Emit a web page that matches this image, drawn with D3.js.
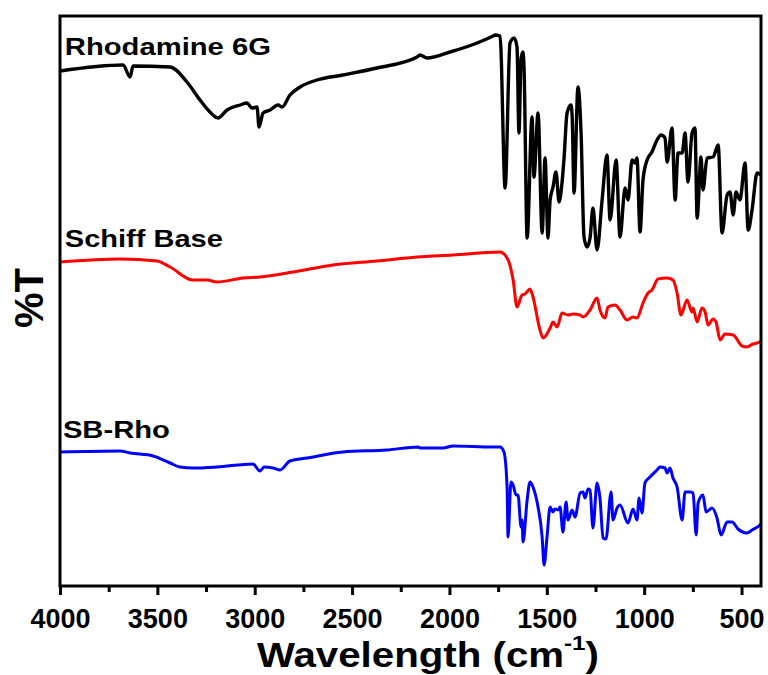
<!DOCTYPE html>
<html>
<head>
<meta charset="utf-8">
<script src="https://cdn.jsdelivr.net/npm/d3@7/dist/d3.min.js"></script>
<style>
  body { margin: 0; background: #fff; }
  text { font-family: "Liberation Sans", Arial, sans-serif; font-weight: bold; }
</style>
</head>
<body>
<svg id="chart" width="768" height="675"></svg>
<script>
// wavenumber (cm-1), %T (arbitrary offset units)
const rhodamine = [[4000,103],[3676,104.2],[3640,101.8],[3625,104],[3435,103.8],[3348,100.8],[3281,97.2],[3230,94.8],[3189,93.6],[3142,95.2],[3075,96.2],[3040,96.6],[3014,95.6],[2988,95.8],[2978,91.8],[2957,94.6],[2921,95.2],[2880,96.2],[2860,95.8],[2819,98.2],[2767,99.8],[2680,101.2],[2547,102.2],[2372,103.6],[2166,105.8],[2151,106.2],[2115,105.6],[1997,106.8],[1858,108.6],[1776,110],[1766,110.2],[1740,110],[1714,79.6],[1689,108.6],[1668,109.6],[1653,107.8],[1643,90.6],[1632,105.6],[1622,106.8],[1617,103.8],[1601,69.6],[1576,93.8],[1566,81.8],[1545,94.6],[1524,70.6],[1509,85.6],[1494,69.6],[1483,77.2],[1468,79.8],[1453,82.8],[1437,76.8],[1422,80.6],[1411,85.8],[1396,94.6],[1376,96.2],[1370,94.2],[1360,78.6],[1340,99.8],[1324,90.6],[1309,69.8],[1293,67.8],[1278,69.6],[1263,75.6],[1242,67.2],[1216,77.2],[1191,86.2],[1175,73.2],[1144,85.2],[1124,69.8],[1098,79.6],[1083,77.2],[1062,85.2],[1047,84.6],[1037,85.6],[1021,70.8],[1006,81.2],[985,85.2],[960,86.8],[934,89.2],[913,90.2],[893,89.6],[882,84.8],[857,91.6],[841,77.2],[826,86.6],[805,86.6],[790,90.6],[775,80.8],[754,90.6],[739,91.6],[728,73.6],[708,85.8],[698,79.2],[677,85.6],[646,85.8],[620,88.2],[600,70.6],[574,78.2],[559,78.8],[543,74.2],[528,78.8],[508,77.2],[482,84.6],[466,71.2],[446,75.2],[420,82.6],[400,82.2]];

const schiffBase = [[4000,64.8],[3692,65.4],[3502,65],[3435,63.8],[3317,61.2],[3245,61.2],[3194,60.8],[3060,61.6],[2973,61.8],[2803,62.8],[2598,64.2],[2372,65],[2166,65.8],[1982,66.2],[1740,66.8],[1699,65.2],[1673,61.2],[1653,55.8],[1627,58.2],[1612,58.4],[1586,59.4],[1571,57.8],[1535,51.2],[1519,49.6],[1483,51.6],[1468,52.8],[1447,51.8],[1422,54.6],[1391,54.2],[1365,54.4],[1329,54.2],[1314,53.8],[1278,55.2],[1242,57.6],[1227,55.2],[1201,53.6],[1186,55.8],[1150,56.2],[1124,55.2],[1088,53.2],[1057,53.8],[1037,53.6],[1006,56.6],[980,58.6],[960,59.2],[929,61.4],[882,61.6],[852,61.2],[831,58.6],[811,54.2],[780,57.2],[754,54.8],[749,55.6],[728,52.8],[703,55.6],[687,54.8],[672,52.2],[646,53.4],[631,52.8],[610,49.2],[585,50.4],[543,50.2],[497,48],[472,47.8],[441,48.4],[405,48.8],[400,49]];

const sbRho = [[4000,26.8],[3692,27],[3640,26.6],[3522,26],[3435,24.6],[3384,23.8],[3317,23.6],[3194,23.8],[3009,24.4],[2973,23],[2952,23.8],[2906,23.6],[2870,23.2],[2819,25],[2731,25.6],[2547,26.8],[2321,27.2],[2161,27.8],[2151,27.6],[2033,27.6],[1982,28],[1776,27.8],[1740,27.8],[1720,26.8],[1704,19.8],[1699,9.8],[1684,20.8],[1673,20.2],[1658,18.2],[1648,18.2],[1632,11.8],[1627,13.2],[1622,8.8],[1601,17.2],[1586,20.8],[1571,19.8],[1545,15.8],[1524,9.8],[1514,4.2],[1499,9.8],[1483,15.8],[1468,14.8],[1458,15.4],[1442,15.2],[1432,15.8],[1417,10.8],[1401,16.8],[1391,13.2],[1370,15.2],[1355,13.8],[1329,18.6],[1314,18.8],[1304,17.6],[1288,19.4],[1278,19.2],[1263,11.6],[1242,20.6],[1227,17.6],[1211,9.6],[1196,9.4],[1170,18.8],[1160,13.2],[1139,15.6],[1124,16.2],[1083,12.6],[1057,15.4],[1037,13.2],[1026,17.6],[1011,14.6],[996,20.6],[970,21.8],[934,23.2],[918,23.8],[893,23.6],[882,22.6],[867,23.6],[852,21.6],[831,19.8],[805,13.2],[790,18.8],[764,18.8],[749,18.6],[733,10.2],[723,16.6],[698,18.2],[682,14.8],[651,15.6],[626,13.6],[605,10.2],[574,12.8],[549,12.8],[518,11.4],[472,10.6],[446,11.2],[405,12.2],[400,12.4]];

const seriesNames = ["Rhodamine 6G", "Schiff Base", "SB-Rho"];
const seriesColors = ["#000000", "#ff0000", "#0000ff"];
const labelAnchors = [[3975, 106.2], [3975, 67.8], [3985, 29.6]];
const majorTicks = [4000, 3500, 3000, 2500, 2000, 1500, 1000, 500];
const minorTicks = [3750, 3250, 2750, 2250, 1750, 1250, 750];

const margin = {left: 60, right: 7, top: 16, bottom: 89};
const width = 768, height = 675;

const svg = d3.select("#chart");

const x = d3.scaleLinear().domain([4000, 400]).range([margin.left, width - margin.right]);
const y = d3.scaleLinear().domain([0, 114]).range([height - margin.bottom, margin.top]);

// spectra
const line = d3.line()
	.curve(d3.curveMonotoneX)
	.x(function(d) { return x(d[0]); })
	.y(function(d) { return y(d[1]); });

[rhodamine, schiffBase, sbRho].forEach(function(data, i) {
	svg.append("path")
		.datum(data)
		.attr("fill", "none")
		.attr("stroke", seriesColors[i])
		.attr("stroke-width", i == 0 ? 3.4 : 3)
		.attr("stroke-linejoin", "round")
		.attr("d", line);
});

// frame
svg.append("rect")
	.attr("x", x(4000))
	.attr("y", y(114))
	.attr("width", x(400) - x(4000))
	.attr("height", y(0) - y(114))
	.attr("fill", "none")
	.attr("stroke", "#000")
	.attr("stroke-width", 3);

// bottom axis
const xAxis = svg.append("g")
	.attr("transform", "translate(0," + y(0) + ")")
	.call(d3.axisBottom(x).tickValues(majorTicks).tickSize(9).tickPadding(14).tickFormat(d3.format("d")));
xAxis.select(".domain").remove();
xAxis.selectAll("line").attr("stroke", "#000").attr("stroke-width", 3);
xAxis.selectAll("text")
	.attr("fill", "#000")
	.style("font-size", "27px")
	.style("font-family", "'Liberation Sans', Arial, sans-serif")
	.style("font-weight", "bold");

const xMinor = svg.append("g")
	.attr("transform", "translate(0," + y(0) + ")")
	.call(d3.axisBottom(x).tickValues(minorTicks).tickSize(6).tickFormat(""));
xMinor.select(".domain").remove();
xMinor.selectAll("line").attr("stroke", "#000").attr("stroke-width", 3);

// series labels
const labelWidths = [206, 158, 107];
seriesNames.forEach(function(name, i) {
	svg.append("text")
		.attr("x", x(labelAnchors[i][0]))
		.attr("y", y(labelAnchors[i][1]))
		.attr("font-size", 24)
		.attr("textLength", labelWidths[i])
		.attr("lengthAdjust", "spacingAndGlyphs")
		.attr("fill", "#000")
		.text(name);
});

// axis titles
const xTitle = svg.append("text")
	.attr("transform", "translate(257,667) scale(1.15,1)")
	.attr("font-size", 35)
	.attr("fill", "#000");
xTitle.append("tspan").text("Wavelength (cm");
xTitle.append("tspan").attr("font-size", 21).attr("dy", -17).text("-1");
xTitle.append("tspan").attr("dy", 17).text(")");

svg.append("text")
	.attr("transform", "translate(43,298) rotate(-90)")
	.attr("text-anchor", "middle")
	.attr("font-size", 40)
	.attr("fill", "#000")
	.text("%T");
</script>
</body>
</html>
